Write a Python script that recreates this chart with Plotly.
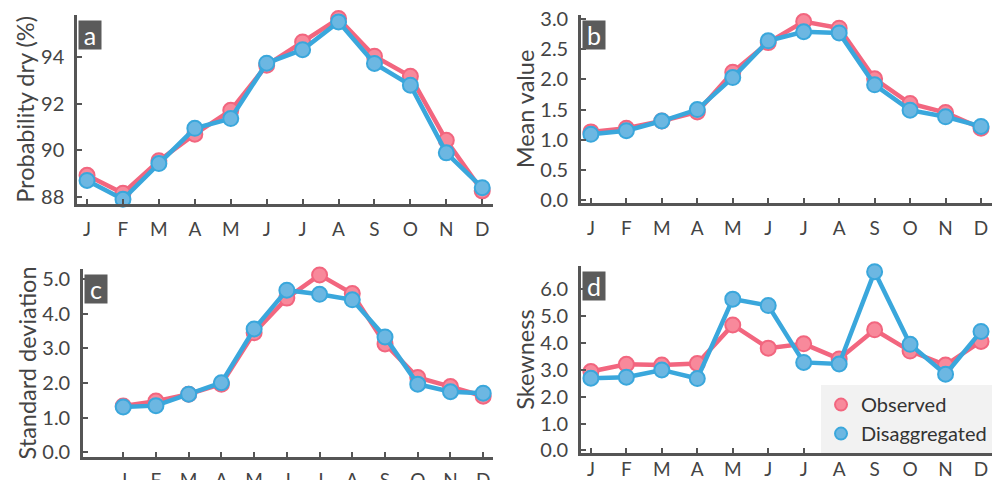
import plotly.graph_objects as go

months = ["J", "F", "M", "A", "M", "J", "J", "A", "S", "O", "N", "D"]
pos = list(range(len(months)))

dry_obs = [88.93, 88.16, 89.55, 90.69, 91.71, 93.64, 94.64, 95.64, 94.03, 93.17, 90.43, 88.26]
dry_dis = [88.71, 87.90, 89.43, 90.94, 91.36, 93.73, 94.31, 95.50, 93.72, 92.79, 89.89, 88.40]

mean_obs = [1.13, 1.19, 1.31, 1.46, 2.12, 2.61, 2.96, 2.85, 2.01, 1.60, 1.45, 1.19]
mean_dis = [1.09, 1.15, 1.31, 1.50, 2.03, 2.64, 2.79, 2.77, 1.91, 1.49, 1.38, 1.22]

std_obs = [1.34, 1.48, 1.68, 1.97, 3.45, 4.45, 5.12, 4.58, 3.13, 2.16, 1.90, 1.62]
std_dis = [1.31, 1.35, 1.68, 2.01, 3.56, 4.68, 4.56, 4.40, 3.33, 1.97, 1.75, 1.71]

skew_obs = [2.93, 3.20, 3.17, 3.23, 4.66, 3.80, 3.96, 3.40, 4.48, 3.69, 3.17, 4.05]
skew_dis = [2.68, 2.72, 2.99, 2.67, 5.62, 5.38, 3.27, 3.21, 6.64, 3.94, 2.83, 4.42]

series_names = ["Observed", "Disaggregated"]
panel_letters = ["a", "b", "c", "d"]
y_titles = ["Probability dry (%)", "Mean value", "Standard deviation", "Skewness"]

FONT = "Lato"
AXIS_COLOR = "#555555"
TEXT_COLOR = "#444444"

styles = {
    "Observed": dict(line="#f2667f", fill="#f8899b", edge="#f2667f"),
    "Disaggregated": dict(line="#3aa7dc", fill="#6cb7e2", edge="#3aa7dc"),
}

panels = [
    # (obs, dis, x domain, y domain, x range, y range, y tick values, tick format, x label gap)
    (dry_obs, dry_dis, [0.0773, 0.495], [0.575, 0.969], [-0.28, 11.3], [87.7, 95.8],
     [88, 90, 92, 94], "d", 6),
    (mean_obs, mean_dis, [0.5833, 0.996], [0.577, 0.969], [-0.28, 11.31], [-0.05, 3.07],
     [0, 0.5, 1.0, 1.5, 2.0, 2.5, 3.0], ".1f", 6),
    (std_obs, std_dis, [0.0833, 0.495], [0.048, 0.4396], [-1.23, 11.3], [-0.13, 5.29],
     [0, 1, 2, 3, 4, 5], ".1f", 4),
    (skew_obs, skew_dis, [0.5833, 0.996], [0.056, 0.4458], [-0.28, 11.31], [-0.1, 6.85],
     [0, 1, 2, 3, 4, 5, 6], ".1f", -3),
]

fig = go.Figure()
layout = {}
annotations = []

for i, (obs, dis, xd, yd, xr, yr, yt, fmt, xgap) in enumerate(panels):
    n = "" if i == 0 else str(i + 1)
    xa, ya = "x" + n, "y" + n
    for name, vals in zip(series_names, [obs, dis]):
        st = styles[name]
        fig.add_trace(go.Scatter(
            x=pos, y=vals, mode="lines+markers", name=name, showlegend=False,
            xaxis=xa, yaxis=ya, cliponaxis=False,
            line=dict(color=st["line"], width=4.5),
            marker=dict(size=15, color=st["fill"], line=dict(color=st["edge"], width=2)),
        ))
    common = dict(
        showline=True, linecolor=AXIS_COLOR, linewidth=2.5, mirror=False,
        ticks="inside", ticklen=5, tickwidth=2, tickcolor=AXIS_COLOR,
        showgrid=False, zeroline=False, automargin=False,
    )
    layout["xaxis" + n] = dict(
        common, domain=xd, anchor=ya, range=xr,
        tickfont=dict(family=FONT, size=19, color=TEXT_COLOR),
        tickmode="array", tickvals=pos, ticktext=months, ticklabelstandoff=xgap,
    )
    layout["yaxis" + n] = dict(
        common, domain=yd, anchor=xa, range=yr,
        tickfont=dict(family=FONT, size=20, color=TEXT_COLOR),
        tickmode="array", tickvals=yt, tickformat=fmt, ticklabelstandoff=6,
        title=dict(text=y_titles[i], font=dict(family=FONT, size=23.5, color=TEXT_COLOR),
                   standoff=0),
    )
    annotations.append(dict(
        text=panel_letters[i], xref=xa + " domain", yref=ya + " domain",
        x=0, y=1, xanchor="left", yanchor="top", yshift=-5, xshift=1,
        showarrow=False, bgcolor="#5b5b5b", width=22, height=28, borderpad=0,
        font=dict(family=FONT, size=25, color="white"),
    ))

# legend entries shown as plain markers
for name in series_names:
    st = styles[name]
    fig.add_trace(go.Scatter(
        x=[None], y=[None], mode="markers", name=name, xaxis="x4", yaxis="y4",
        marker=dict(size=15, color=st["fill"], line=dict(color=st["edge"], width=2)),
    ))

fig.update_layout(
    width=996, height=480,
    margin=dict(l=0, r=0, t=0, b=0, autoexpand=False),
    paper_bgcolor="white", plot_bgcolor="white",
    font=dict(family=FONT, color=TEXT_COLOR),
    annotations=annotations,
    showlegend=True,
    legend=dict(
        x=0.996, y=0.056, xanchor="right", yanchor="bottom",
        bgcolor="#f2f2f2", borderwidth=0,
        font=dict(family=FONT, size=20, color="#333333"),
        itemsizing="constant", tracegroupgap=0,
    ),
    **layout,
)

fig.write_html("out.html")
